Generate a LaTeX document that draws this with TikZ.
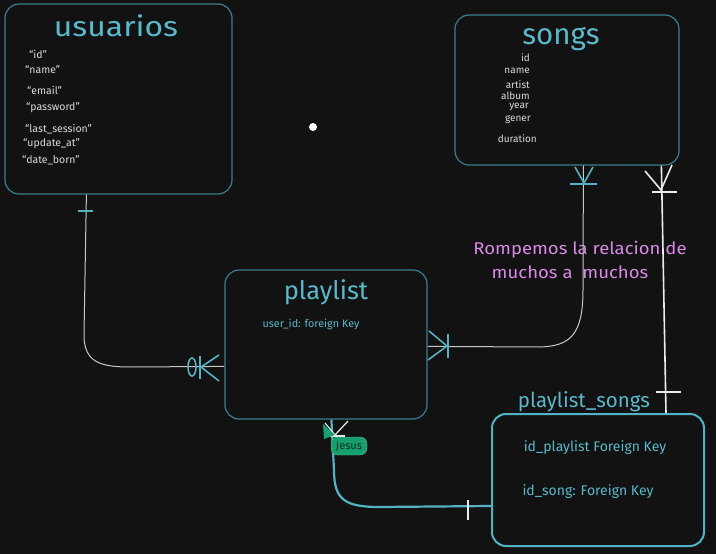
\documentclass[tikz,border=0pt]{standalone}
\usepackage{fontspec}
\usepackage{graphicx}
\setmainfont{Fira Sans}
\definecolor{bg}{HTML}{121212}
\definecolor{boxc}{HTML}{3A7F8E}
\definecolor{boxb}{HTML}{55B2C5}
\definecolor{ttl}{HTML}{5BB8CB}
\definecolor{attr}{HTML}{DADADA}
\definecolor{pinkt}{HTML}{D98AE6}
\definecolor{lineg}{HTML}{C8C8C8}
\definecolor{jes}{HTML}{17A06E}
\definecolor{jesd}{HTML}{0B2E22}
\tikzset{
  entity/.style={draw=boxc, line width=1.2pt, rounded corners=14pt, fill=bg, inner sep=0pt},
  entityb/.style={draw=boxb, line width=2pt, rounded corners=14pt, fill=bg, inner sep=0pt},
  ttltext/.style={text=ttl, inner sep=0pt},
  attrtext/.style={text=attr, inner sep=0pt, anchor=west, font=\fontsize{10.5}{12}\selectfont},
  songattr/.style={text=attr, inner sep=0pt, anchor=east, font=\fontsize{10}{11}\selectfont},
  cyantext/.style={text=ttl, inner sep=0pt},
  grayline/.style={draw=lineg, line width=1pt},
  whiteline/.style={draw=white!92!black, line width=1.6pt},
  cyanline/.style={draw=boxb, line width=2.2pt},
  cyanmark/.style={draw=boxb, line width=1.6pt},
  whitemark/.style={draw=white!92!black, line width=1.6pt},
}
\begin{document}
\begin{tikzpicture}[x=1pt,y=-1pt]
\fill[bg] (0,0) rectangle (716,554);
\useasboundingbox (0,0) rectangle (716,554);

% entity boxes
\node[entity, minimum width=227pt, minimum height=190pt] (usuarios) at (118.5,99) {};
\node[entity, minimum width=224pt, minimum height=150pt] (songs) at (567,90) {};
\node[entity, minimum width=202pt, minimum height=149pt] (playlist) at (326,344.5) {};
\node[entityb, minimum width=212pt, minimum height=132pt] (plsongs) at (598,480) {};

% titles
\node[ttltext, font=\fontsize{28}{30}\selectfont] (tu) at (116,26) {\scalebox{1.14}[1]{usuarios}};
\node[ttltext, font=\fontsize{29.5}{31}\selectfont] (ts) at (561,39) {songs};
\node[ttltext, font=\fontsize{25.5}{28}\selectfont] (tp) at (326,292) {playlist};
\node[ttltext, font=\fontsize{20.5}{23}\selectfont] (tps) at (584,402) {playlist\_songs};

% usuarios attributes
\node[attrtext] (a1) at (29,54) {“id”};
\node[attrtext] (a2) at (25,70) {“name”};
\node[attrtext] (a3) at (27,90) {“email”};
\node[attrtext] (a4) at (26,108) {“password”};
\node[attrtext] (a5) at (25,129) {“last\_session”};
\node[attrtext] (a6) at (23,144) {“update\_at”};
\node[attrtext] (a7) at (22,160) {“date\_born”};

% songs attributes
\node[songattr] (s1) at (530,58) {id};
\node[songattr] (s2) at (530,71) {name};
\node[songattr] (s3) at (530,85) {artist};
\node[songattr] (s4) at (530,96) {album};
\node[songattr] (s5) at (529,107) {year};
\node[songattr] (s6) at (531,120) {gener};
\node[songattr] (s7) at (537,139) {duration};

% playlist attributes
\node[cyantext, font=\fontsize{10.8}{12}\selectfont] (p1) at (311,324) {user\_id: foreign Key};

% playlist_songs attributes
\node[cyantext, font=\fontsize{14}{16}\selectfont] (ps1) at (595,448) {id\_playlist Foreign Key};
\node[cyantext, font=\fontsize{14}{16}\selectfont] (ps2) at (588,492) {id\_song: Foreign Key};

% pink note
\node[text=pinkt, font=\fontsize{17}{20}\selectfont, inner sep=0pt] (n1) at (580,250) {\scalebox{1.09}[1]{Rompemos la relacion de}};
\node[text=pinkt, font=\fontsize{17}{20}\selectfont, inner sep=0pt] (n2) at (570,272) {\scalebox{1.09}[1]{muchos a \ muchos}};

% white dot
\fill[white] (313,127) circle (4pt);

% endpoints
\coordinate (ua) at ([xshift=82pt]usuarios.south west);
\coordinate (pw) at ([yshift=-97pt]playlist.north west);
\coordinate (sb) at ([xshift=129pt]songs.south west);
\coordinate (pe) at ([yshift=-77pt]playlist.north east);
\coordinate (sb2) at ([xshift=207pt]songs.south west);
\coordinate (pst) at ([xshift=175pt]plsongs.north west);
\coordinate (pb) at ([xshift=107pt]playlist.south west);
\coordinate (psw) at ([yshift=-93pt]plsongs.north west);

% connector usuarios - playlist
\draw[grayline] (ua) -- (84,335) .. controls (84,362) and (100,367) .. (130,367) -- (pw);
\draw[cyanmark] (78,211) -- (93,211);
\draw[cyanmark] (192,367) ellipse (4pt and 9pt);
\draw[cyanmark] (200,356) -- (200,379);
\draw[cyanmark] (219,355) -- (201,367) -- (219,381);

% connector songs - playlist
\draw[grayline] (sb) -- (583,290) .. controls (583,335) and (570,346) .. (540,347) -- (pe);
\draw[cyanmark] (575,167) -- (584,183) -- (593,167);
\draw[cyanmark] (570,184) -- (597,184);
\draw[cyanmark] (429,331) -- (447,346) -- (428,360);
\draw[cyanmark] (448,334) -- (448,358);

% connector songs - playlist_songs
\draw[whiteline] (sb2) -- (pst);
\draw[whitemark] (645,171) -- (661,190) -- (672,165);
\draw[whitemark] (652,192) -- (677,192);
\draw[whitemark] (656,392) -- (681,392);

% connector playlist - playlist_songs
\draw[cyanline] (pb) -- (334,470) .. controls (334,500) and (345,507) .. (380,507) -- (psw);
\draw[whitemark] (468,500) -- (468,520);
\draw[whitemark, line width=1.2pt] (325,423) -- (335,435) -- (348,421);
\draw[whitemark, line width=1.2pt] (326,436) -- (345,436);
\fill[jes] (323,424) -- (335,435) -- (324,439) -- cycle;
\node[fill=jes, draw=jes!70!white, rounded corners=7pt, minimum width=36pt, minimum height=18pt, inner sep=0pt, text=jesd, font=\fontsize{11}{12}\selectfont] (jesus) at (349,446) {Jesus};
\end{tikzpicture}
\end{document}
